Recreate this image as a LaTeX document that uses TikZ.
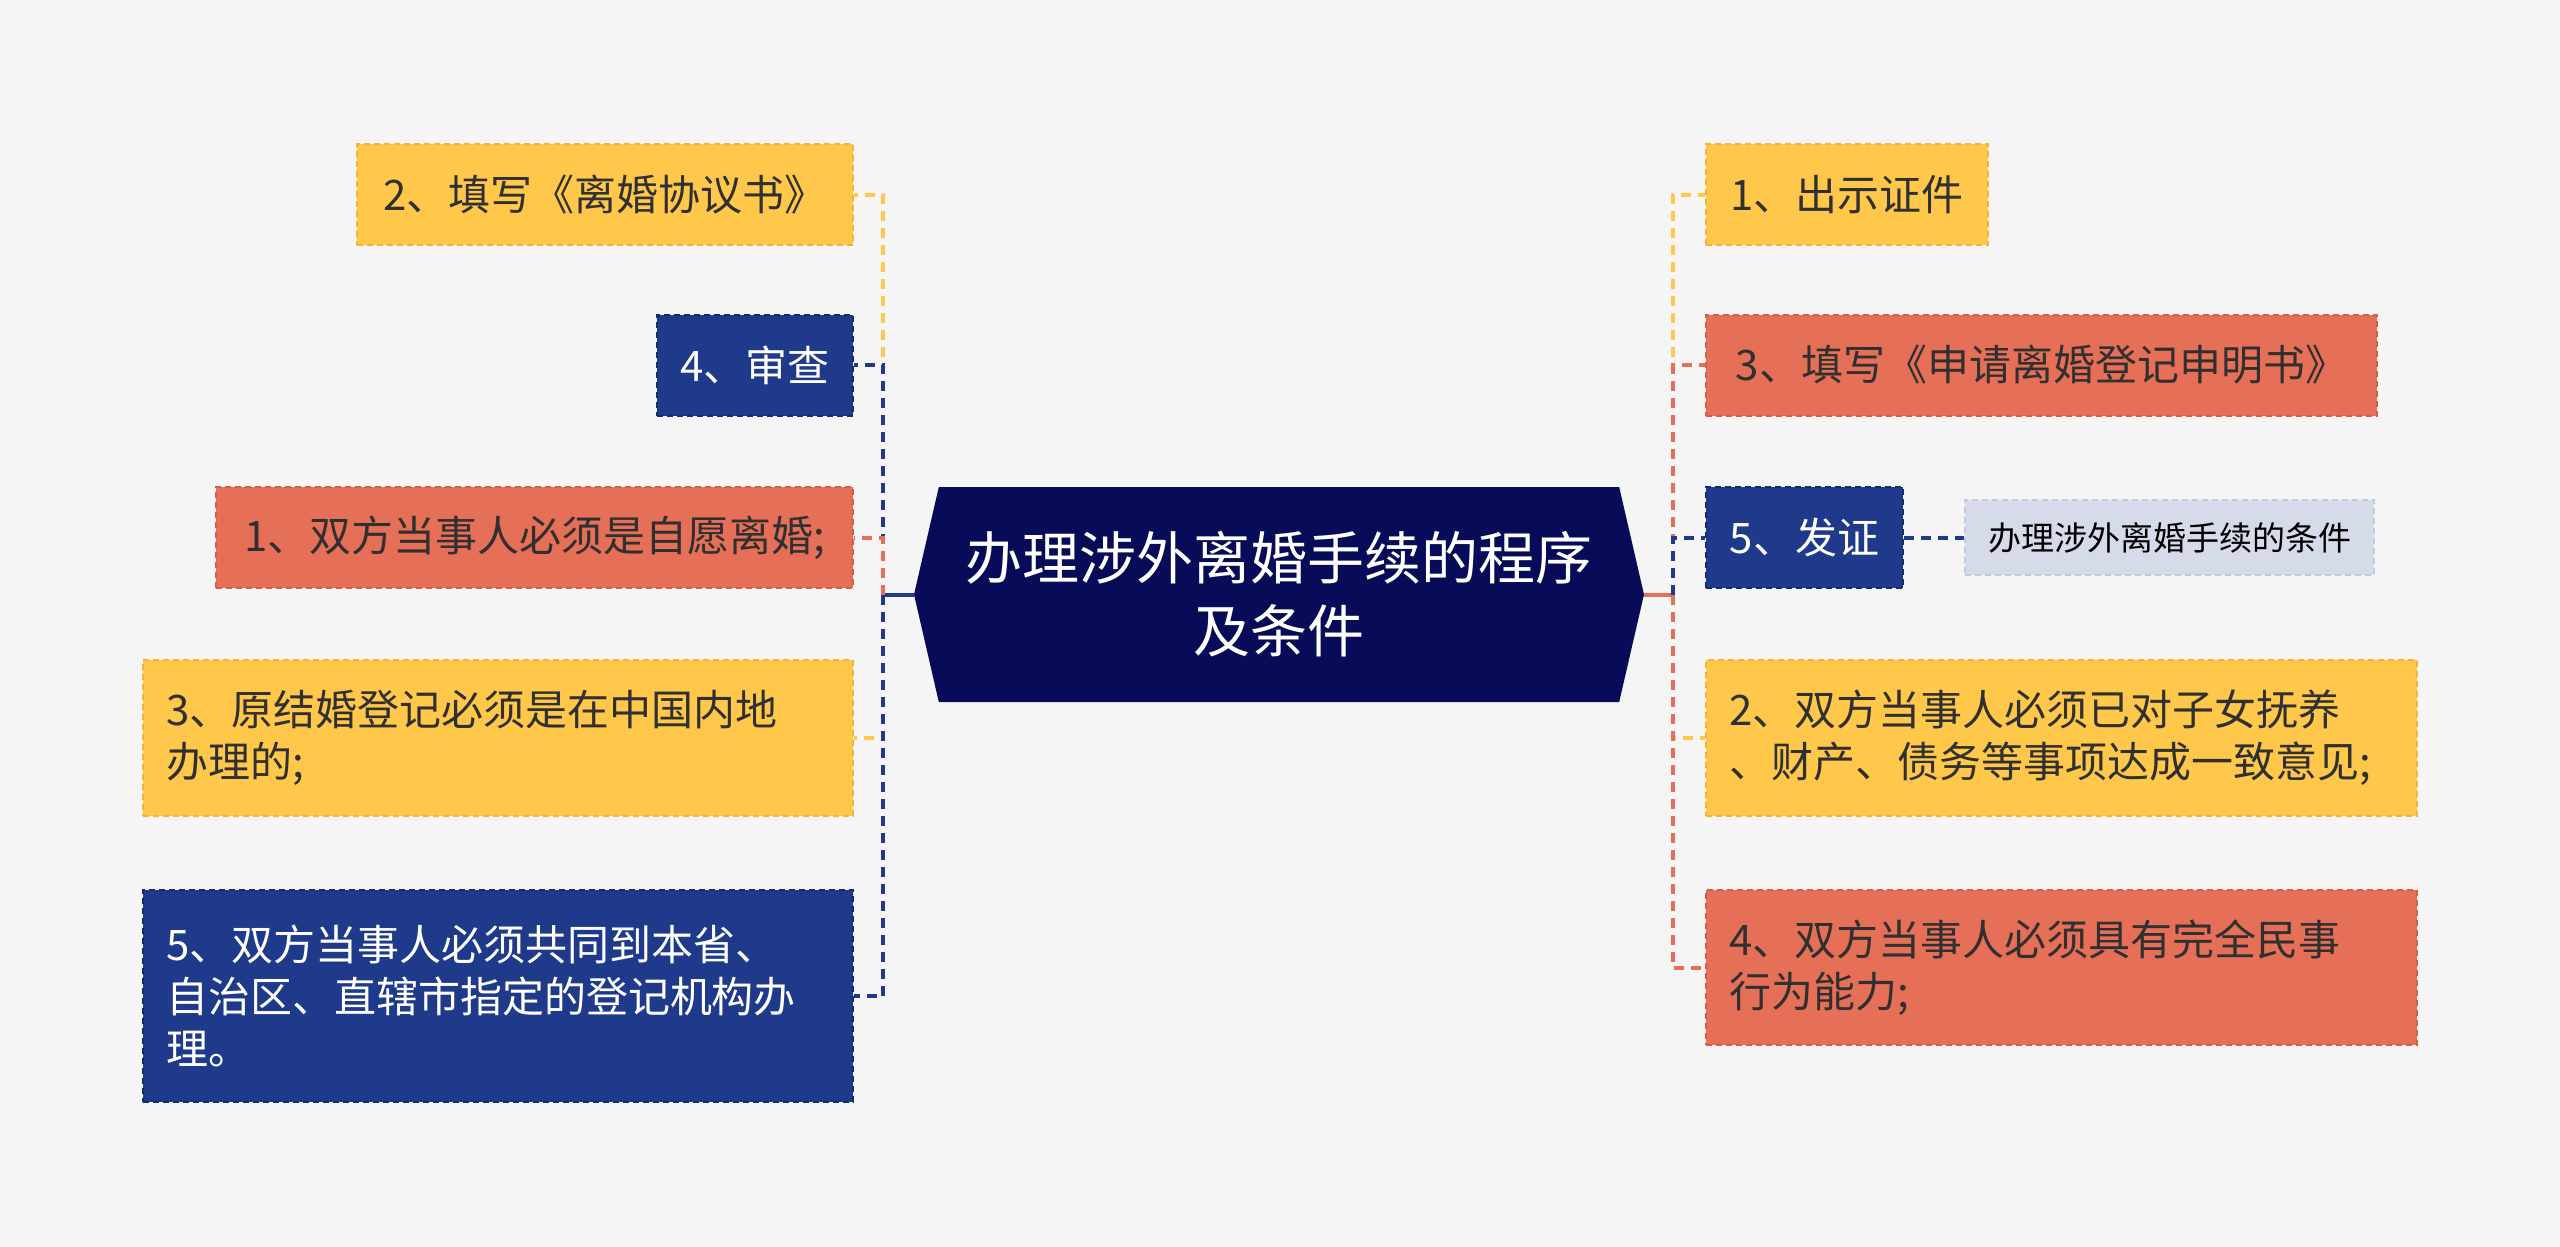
\documentclass[tikz,border=0pt]{standalone}
\usepackage{fontspec}
\setmainfont{Noto Sans CJK SC}
\usetikzlibrary{shapes.symbols, positioning}

\definecolor{bgc}{HTML}{F5F5F5}
\definecolor{rootc}{HTML}{080C58}
\definecolor{yelc}{HTML}{FFC84A}
\definecolor{yeld}{HTML}{F0B534}
\definecolor{redc}{HTML}{E66F58}
\definecolor{redd}{HTML}{D45E48}
\definecolor{navc}{HTML}{1F3A8A}
\definecolor{navd}{HTML}{142B6E}
\definecolor{lavc}{HTML}{D6DBEA}
\definecolor{lavd}{HTML}{C3CADF}
\definecolor{txtc}{HTML}{303030}

\begin{document}
\begin{tikzpicture}[x=0.5pt, y=-0.5pt,
    leaf/.style={rectangle, inner xsep=11.5pt, inner ysep=0pt, line width=1pt,
      dash pattern=on 3pt off 2pt, font=\fontsize{21}{26}\selectfont,
      align=left, minimum height=50.5pt},
    yel/.style={leaf, fill=yelc, draw=yeld, text=txtc},
    red/.style={leaf, fill=redc, draw=redd, text=txtc},
    nav/.style={leaf, fill=navc, draw=navd, text=white},
    link/.style={line width=2pt, dash pattern=on 5pt off 3.5pt},
    trunk/.style={line width=2pt}]
  \fill[bgc] (0,0) rectangle (2560,1247);

  \node[signal, signal to=west and east, signal pointer angle=154, fill=rootc,
        text=white, align=center, inner sep=0pt, minimum width=365pt,
        minimum height=107.5pt, font=\fontsize{28.5}{36.5}\selectfont] (c)
    at (1279,594.5) {办理涉外离婚手续的程序\\及条件};
  \coordinate (jl) at (883,594.5);
  \coordinate (jr) at (1673,594.5);

  % left branch
  \node[yel, anchor=east, minimum width=248pt] (l1) at (854,194.5) {2、填写《离婚协议书》};
  \node[nav, anchor=east, minimum width=98pt] (l2) at (854,365) {4、审查};
  \node[red, anchor=east, minimum width=318.5pt] (l3) at (854,537.5) {1、双方当事人必须是自愿离婚;};
  \node[yel, anchor=east, text width=332pt, minimum height=78pt] (l4) at (854,738)
    {3、原结婚登记必须是在中国内地\\办理的;};
  \node[nav, anchor=east, text width=332pt, minimum height=106pt] (l5) at (854,996)
    {5、双方当事人必须共同到本省、\\自治区、直辖市指定的登记机构办\\理。};

  % right branch
  \node[yel, anchor=west, minimum width=141pt] (r1) at (1705,194.5) {1、出示证件};
  \node[red, anchor=west, minimum width=335.5pt] (r2) at (1705,365) {3、填写《申请离婚登记申明书》};
  \node[nav, anchor=west, minimum width=98.5pt] (r3) at (1705,537.5) {5、发证};
  \node[leaf, fill=lavc, draw=lavd, text=black, anchor=west, minimum width=200pt,
        minimum height=37.5pt, font=\fontsize{16.5}{20}\selectfont] (r3x)
    at (1964,537.5) {办理涉外离婚手续的条件};
  \node[yel, anchor=west, text width=332.5pt, minimum height=78pt] (r4) at (1705,738)
    {2、双方当事人必须已对子女抚养\\、财产、债务等事项达成一致意见;};
  \node[red, anchor=west, text width=332.5pt, minimum height=77.5pt] (r5) at (1705,967.5)
    {4、双方当事人必须具有完全民事\\行为能力;};

  \draw[trunk, navc] (c.west) -- (jl);
  \draw[trunk, redc] (c.east) -- (jr);

  \draw[link, yelc] (jl) |- (l1.east);
  \draw[link, yelc] (jl) |- (l4.east);
  \draw[link, navc] (jl) |- (l2.east);
  \draw[link, navc] (jl) |- (l5.east);
  \draw[link, redc] (jl) |- (l3.east);

  \draw[link, yelc] (jr) |- (r1.west);
  \draw[link, yelc] (jr) |- (r4.west);
  \draw[link, redc] (jr) |- (r2.west);
  \draw[link, redc] (jr) |- (r5.west);
  \draw[link, navc] (jr) |- (r3.west);
  \draw[link, navc] (r3) -- (r3x);
\end{tikzpicture}
\end{document}
